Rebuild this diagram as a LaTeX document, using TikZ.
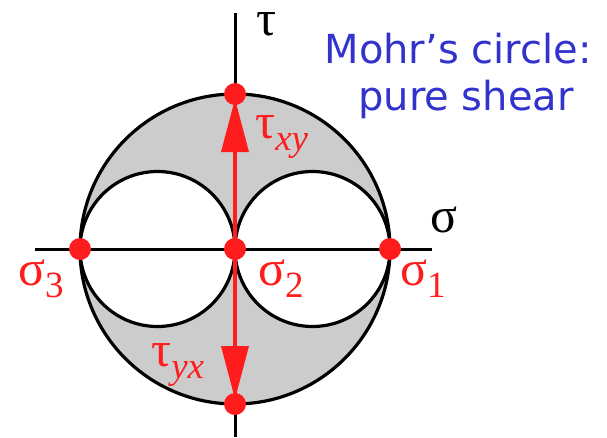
\documentclass[tikz,border=0pt]{standalone}
\usepackage{fontspec}
\setmainfont{Liberation Serif}
\newfontfamily\titlefont{DejaVu Sans}
\definecolor{mred}{RGB}{255,28,28}
\definecolor{mblue}{RGB}{50,50,205}
\definecolor{mgray}{RGB}{204,204,204}
\newcommand\subs[1]{\raisebox{-12pt}{\fontsize{37}{37}\selectfont #1}}
\begin{document}
\begin{tikzpicture}[x=1pt,y=-1pt,
  outline/.style={line width=3.2pt,draw=black},
  axis/.style={line width=3pt,draw=black},
  dot/.style={circle,fill=mred,inner sep=0pt,minimum size=22pt},
  lab/.style={text=mred,font=\fontsize{50}{50}\selectfont,inner sep=0pt,anchor=base west},
  blab/.style={text=black,font=\fontsize{50}{50}\selectfont,inner sep=0pt,anchor=base west},
  title/.style={text=mblue,font=\titlefont\fontsize{40}{47}\selectfont,inner sep=0pt,anchor=base}]
\useasboundingbox (0,0) rectangle (607,437);
% circles
\filldraw[fill=mgray,outline] (235,249) circle[radius=155];
\filldraw[fill=white,outline] (157.5,249) circle[radius=77.5];
\filldraw[fill=white,outline] (312.5,249) circle[radius=77.5];
% axes
\coordinate (tt) at (235,13);
\coordinate (tb) at (235,437);
\coordinate (sl) at (35,249);
\coordinate (sr) at (432,249);
\draw[axis] (tt) -- (tb);
\draw[axis] (sl) -- (sr);
% points
\node[dot] (top) at (235,94) {};
\node[dot] (bot) at (235,404) {};
\node[dot] (s3) at (80,249) {};
\node[dot] (s2) at (235,249) {};
\node[dot] (s1) at (390,249) {};
% red line and arrowheads
\draw[mred,line width=4.5pt] (top) -- (bot);
\fill[mred] (235,99) -- (249,152) -- (221,152) -- cycle;
\fill[mred] (235,399) -- (249,346) -- (221,346) -- cycle;
% labels
\node[blab,text height=22pt] (tau) at (256,35) {τ};
\node[blab] (sig) at (430,232) {σ};
\node[lab] (l3) at (18,285) {σ\subs{3}};
\node[lab] (l2) at (258,285) {σ\subs{2}};
\node[lab] (l1) at (400,285) {σ\subs{1}};
\node[lab] (lxy) at (255,138) {τ\subs{\itshape xy}};
\node[lab] (lyx) at (151,366) {τ\subs{\itshape yx}};
\node[title] (t1) at (458,63) {Mohr’s circle:};
\node[title] (t2) at (466,110) {pure shear};
\end{tikzpicture}
\end{document}
